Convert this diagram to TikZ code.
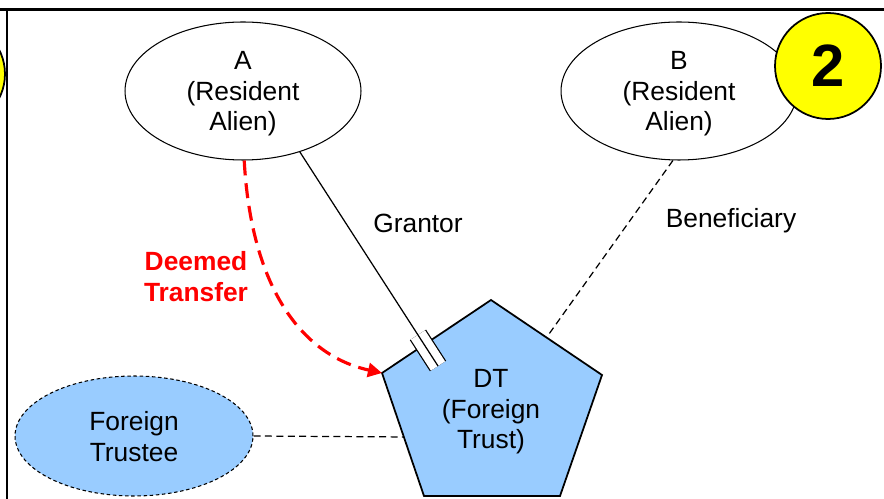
\documentclass[tikz,border=0pt]{standalone}
\usepackage{fontspec}
\setmainfont{Liberation Sans}
\usetikzlibrary{shapes.geometric,arrows.meta,calc}
\definecolor{trustblue}{RGB}{153,204,255}
\definecolor{badgeyellow}{RGB}{255,255,0}
\definecolor{deemedred}{RGB}{255,0,0}

\begin{document}
\begin{tikzpicture}[x=0.02cm, y=-0.02cm,
	every node/.style={font=\fontsize{15}{17.6}\selectfont, align=center},
	person/.style={ellipse, draw, line width=0.6pt, fill=white, minimum width=4.72cm, minimum height=2.76cm, inner sep=0pt, text depth=0pt},
	badge/.style={circle, draw, line width=1pt, fill=badgeyellow, minimum size=2.12cm, inner sep=0pt, font=\fontsize{34}{40}\selectfont\bfseries},
	link/.style={line width=0.7pt},
	weaklink/.style={line width=0.7pt, dash pattern=on 4pt off 2.5pt},
	deemed/.style={line width=1.8pt, draw=deemedred, dash pattern=on 8.5pt off 4.5pt, -{Triangle[length=8pt, width=8pt]}}]

	\useasboundingbox (0,0) rectangle (884,499);
	\clip (0,0) rectangle (884,499);

	% frame
	\draw [line width=1.7pt] (0,9.5) -- (884,9.5);
	\draw [line width=1.7pt] (7,9.5) -- (7,499);
	\node [badge] (prev) at (-48,74) {};

	% parties
	\node [person] (A) at (243,91) {A\\(Resident\\Alien)};
	\node [person] (B) at (679,91) {B\\(Resident\\Alien)};
	\node [badge] (two) at (828,66) {2};

	\node [ellipse, draw, line width=0.6pt, dash pattern=on 2pt off 1.5pt, fill=trustblue, minimum width=4.76cm, minimum height=2.4cm, inner sep=0pt, text depth=0pt] (trustee) at (134,436) {Foreign\\Trustee};

	% the trust
	\coordinate (T) at (491,300);
	\coordinate (R) at (602,375);
	\coordinate (BR) at (560,496);
	\coordinate (BL) at (424,496);
	\coordinate (L) at (382,373);
	\draw [line width=1pt, fill=trustblue] (T) -- (R) -- (BR) -- (BL) -- (L) -- cycle;
	\node [text depth=0pt] (DT) at (491,409) {DT\\(Foreign\\Trust)};

	% links
	\coordinate (grantEnd) at (438,366);
	\draw [line width=0.7pt, double=white, double distance=9.6pt] ($(grantEnd)!0.74cm!(A.-47)$) -- (grantEnd);
	\draw [link] (A.-47) -- (grantEnd);

	\draw [weaklink] (B.-95) -- ($(T)!0.5!(R)$);
	\draw [weaklink] (trustee.east) -- ($(L)!0.52!(BL)$);

	\draw [deemed] (A.-89) .. controls (251,285) and (300,355) .. (L);

	% labels
	\node (grantor) at (418,223) {Grantor};
	\node (beneficiary) at (731,221) {Beneficiary};
	\node [text=deemedred, font=\fontsize{15}{17.6}\selectfont\bfseries] (transfer) at (196,277) {Deemed\\Transfer};

\end{tikzpicture}
\end{document}
